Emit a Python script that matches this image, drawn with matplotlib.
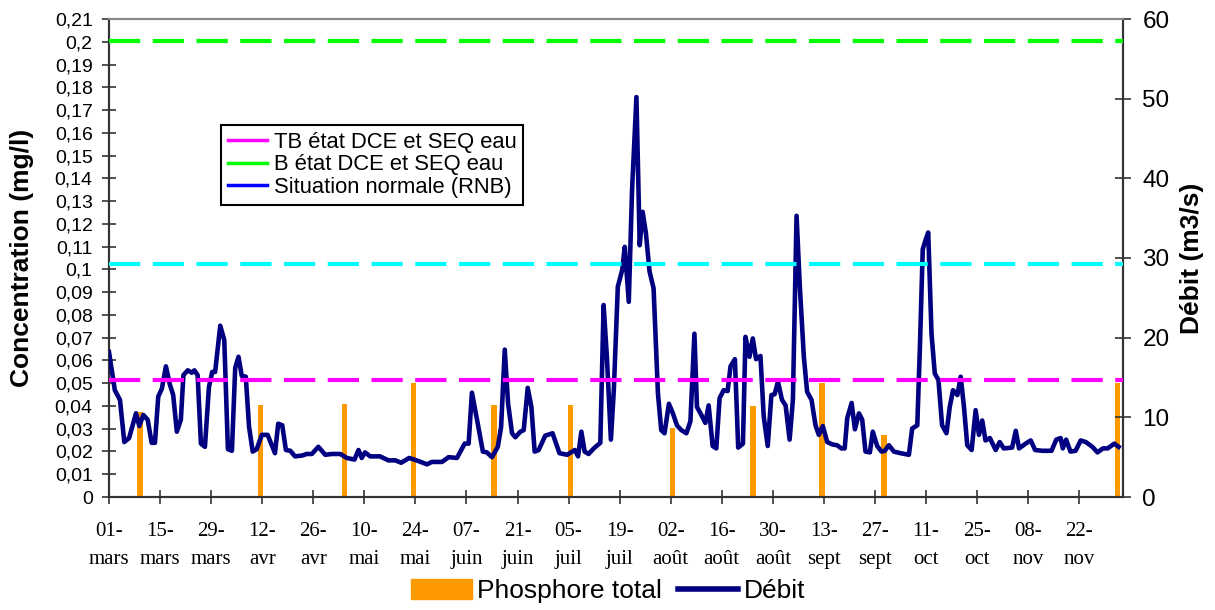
import matplotlib
matplotlib.use("Agg")
import matplotlib.pyplot as plt
from matplotlib.lines import Line2D
from matplotlib.patches import Patch
import numpy as np

# jours depuis le 01-mars
tick_jours = [0, 14, 28, 42, 56, 70, 84, 98, 112, 126, 140, 154, 168, 182, 196, 210, 224, 238, 252, 266]
tick_dates = ["01-\nmars", "15-\nmars", "29-\nmars", "12-\navr", "26-\navr", "10-\nmai", "24-\nmai",
              "07-\njuin", "21-\njuin", "05-\njuil", "19-\njuil", "02-\naoût", "16-\naoût", "30-\naoût",
              "13-\nsept", "27-\nsept", "11-\noct", "25-\noct", "08-\nnov", "22-\nnov"]

# Phosphore total (mg/l)
phos_jours = [8.5, 41.5, 64.5, 83.5, 105.5, 126.5, 154.5, 176.5, 195.5, 212.5, 276.5]
phos_conc = [0.0375, 0.0405, 0.041, 0.050, 0.0405, 0.0405, 0.0305, 0.040, 0.050, 0.0272, 0.050]

# seuils (mg/l)
seuil_tb = 0.0513
seuil_b = 0.2005
seuil_rnb = 0.1025

# Débit (m3/s)
debit_jours = [0.0, 1.6, 3.0, 4.2, 5.5, 7.4, 8.3, 9.4, 10.6, 11.7, 12.6, 13.5, 14.5, 15.6, 16.7, 17.6, 18.6,
               19.7, 20.4, 21.6, 22.7, 23.4, 24.3, 25.2, 26.3, 27.4, 28.3, 29.1, 30.5, 31.6, 32.6, 33.7,
               34.6, 35.5, 36.4, 37.5, 38.4, 39.4, 40.5, 41.9, 43.5, 45.5, 46.4, 47.5, 48.5, 49.7, 51.0,
               52.9, 54.2, 55.6, 57.4, 59.3, 61.1, 63.4, 65.2, 67.3, 68.4, 69.3, 70.2, 71.6, 74.3, 76.6,
               78.5, 80.1, 82.3, 84.9, 87.2, 88.5, 91.3, 93.1, 95.4, 97.5, 98.6, 99.5, 100.9, 102.5,
               103.6, 105.0, 106.6, 107.5, 108.5, 109.4, 110.5, 111.4, 112.8, 113.7, 114.8, 115.8,
               116.7, 117.8, 119.6, 121.6, 123.5, 125.6, 127.7, 128.6, 129.5, 130.4, 131.5, 132.9,
               134.7, 135.6, 136.5, 137.6, 138.4, 139.5, 140.7, 141.4, 142.5, 143.4, 144.6, 145.5,
               146.3, 147.2, 148.2, 149.3, 150.5, 151.4, 152.3, 153.5, 154.6, 155.7, 156.9, 158.3,
               159.4, 160.5, 161.2, 162.4, 163.5, 164.4, 165.5, 166.5, 167.4, 168.5, 169.6, 170.4,
               171.6, 172.5, 173.8, 174.5, 175.6, 176.5, 177.4, 178.6, 179.5, 180.6, 181.6, 182.5,
               183.4, 184.5, 185.5, 186.6, 187.5, 188.5, 189.4, 190.5, 191.4, 192.6, 193.7, 194.6,
               195.7, 196.9, 198.3, 199.6, 200.8, 201.7, 202.4, 203.6, 204.5, 205.6, 206.5, 207.4,
               208.6, 209.4, 210.6, 211.8, 212.7, 213.8, 215.2, 217.0, 219.3, 220.2, 221.6, 222.3,
               223.1, 223.9, 224.6, 225.5, 226.4, 227.4, 228.4, 229.6, 230.5, 231.4, 232.6, 233.5,
               234.4, 235.3, 236.5, 237.6, 238.5, 239.4, 240.3, 241.5, 243.1, 244.2, 245.3, 247.6,
               248.6, 249.5, 251.3, 252.7, 253.9, 255.9, 258.4, 259.7, 260.9, 261.5, 262.4, 263.6,
               265.0, 266.4, 267.8, 269.6, 271.0, 272.5, 273.8, 275.6, 276.8]
debit_m3s = [18.2, 13.4, 12.2, 6.9, 7.4, 10.5, 8.9, 10.3, 9.7, 6.8, 6.8, 12.6, 13.6, 16.4, 14.1, 12.8, 8.2,
             9.7, 15.3, 15.9, 15.6, 15.9, 15.3, 6.7, 6.3, 13.8, 15.7, 15.7, 21.5, 19.7, 6.0, 5.8,
             16.2, 17.6, 15.2, 15.1, 8.8, 5.7, 6.0, 7.8, 7.8, 5.5, 9.2, 9.0, 5.9, 5.8, 5.1,
             5.2, 5.4, 5.4, 6.3, 5.3, 5.4, 5.4, 4.9, 4.7, 5.9, 4.9, 5.6, 5.1, 5.1, 4.6,
             4.6, 4.3, 4.9, 4.5, 4.1, 4.4, 4.4, 5.0, 4.9, 6.7, 6.7, 13.1, 9.7, 5.7,
             5.6, 5.0, 6.3, 8.8, 18.5, 11.8, 8.0, 7.5, 8.2, 8.4, 13.7, 11.3,
             5.7, 5.9, 7.7, 8.0, 5.5, 5.3, 5.9, 5.1, 8.2, 5.7, 5.4, 6.1,
             6.8, 24.1, 17.6, 7.2, 13.4, 26.4, 28.5, 31.4, 24.5, 38.5, 50.2, 31.6,
             35.8, 33.1, 28.3, 26.2, 13.0, 8.4, 8.0, 11.7, 10.5, 9.0, 8.4, 8.0,
             9.5, 20.5, 11.3, 10.3, 9.3, 11.5, 6.4, 6.1, 12.4, 13.4, 13.3, 16.4,
             17.3, 6.2, 6.7, 20.1, 17.6, 19.9, 17.3, 17.7, 10.1, 6.4, 12.8, 12.9,
             14.5, 12.2, 11.5, 7.2, 12.2, 35.3, 26.4, 17.6, 13.2, 12.2, 9.0, 7.8,
             8.9, 6.9, 6.6, 6.5, 6.1, 6.1, 9.9, 11.8, 8.5, 10.5, 9.7, 5.7,
             5.6, 8.2, 6.4, 5.7, 5.8, 6.5, 5.7, 5.5, 5.3, 8.6, 9.0, 18.5,
             31.1, 32.3, 33.2, 20.5, 15.5, 14.7, 9.0, 8.0, 11.3, 13.4, 12.8, 15.1,
             11.3, 6.5, 5.9, 10.9, 7.8, 9.6, 7.1, 7.4, 5.9, 6.9, 6.1, 6.2,
             8.3, 6.1, 6.7, 7.1, 5.9, 5.8, 5.8, 7.2, 7.4, 6.1, 7.2, 5.7,
             5.8, 7.1, 6.9, 6.3, 5.6, 6.1, 6.1, 6.7, 6.3]

fig = plt.figure(figsize=(12.15, 6.10), dpi=100)
ax = fig.add_axes([109/1215, 1-497/610, (1123-109)/1215, (497-19)/610])
ax2 = ax.twinx()

ax.bar(phos_jours, phos_conc, width=1.5, color="#FF9900", zorder=2)
ax2.plot(debit_jours, debit_m3s, color="#000080", lw=3.3, solid_joinstyle="round", zorder=3)

# seuils dessinés au-dessus du débit, sur l'échelle de concentration
for v, c in [(seuil_tb, "#FF00FF"), (seuil_b, "#00FF00"), (seuil_rnb, "#00FFFF")]:
    ax2.plot([0, 278], [v, v], color=c, lw=3, dashes=(7.5, 3), transform=ax.transData, zorder=4)

ax.set_xlim(0, 278)
ax.set_ylim(0, 0.21)
ax2.set_ylim(0, 60)

yt = np.round(np.arange(22) * 0.01, 2)
ax.set_yticks(yt)
ax.set_yticklabels([("%g" % v).replace(".", ",") for v in yt])
ax2.set_yticks(range(0, 61, 10))
ax.set_xticks(tick_jours)
ax.set_xticklabels(tick_dates, family="Liberation Serif", fontsize=15, linespacing=1.65)

for lab in ax.get_yticklabels():
    lab.set_family("Liberation Sans")
ax.tick_params(axis="y", direction="inout", length=9.5, width=1.2, pad=7, labelsize=14, colors="#333333", labelcolor="black")
ax.tick_params(axis="x", direction="inout", length=9.5, width=1.2, pad=13, colors="#333333", labelcolor="black")
ax2.tick_params(axis="y", direction="inout", length=12, width=1.2, pad=8, labelsize=17.5, colors="#333333", labelcolor="black")
for lab in ax2.get_yticklabels():
    lab.set_family("Liberation Sans")

for a in (ax, ax2):
    a.spines["top"].set_color("#888888")
    a.spines["top"].set_linewidth(1.5)
    for s in ("left", "right", "bottom"):
        a.spines[s].set_color("#333333")
        a.spines[s].set_linewidth(1.5)

ax.set_ylabel("Concentration (mg/l)", family="Liberation Sans", fontweight="bold", fontsize=19)
ax.yaxis.set_label_coords((34-109)/1014, 0.5)
ax2.set_ylabel("Débit (m3/s)", family="Liberation Sans", fontweight="bold", fontsize=19)
ax2.yaxis.set_label_coords((1180-109)/1014, 0.5)

h1 = [Line2D([], [], color="#FF00FF", lw=2.5),
      Line2D([], [], color="#00FF00", lw=2.5),
      Line2D([], [], color="#0000FF", lw=2.5)]
leg1 = fig.legend(h1, ["TB état DCE et SEQ eau", "B état DCE et SEQ eau", "Situation normale (RNB)"],
                  loc="upper left", bbox_to_anchor=(221/1215, 1-125/610), fancybox=False,
                  edgecolor="black", framealpha=1, borderpad=0.3, labelspacing=0.08,
                  handlelength=1.8, handletextpad=0.3, borderaxespad=0,
                  prop={"family": "Liberation Sans", "size": 15.8})
leg1.get_frame().set_linewidth(1.5)

h2 = [Patch(color="#FF9900"), Line2D([], [], color="#000080", lw=4)]
fig.legend(h2, ["Phosphore total", "Débit"], loc="center", bbox_to_anchor=(608/1215, 1-591/610),
           ncol=2, frameon=False, handlelength=2.3, handleheight=0.8, handletextpad=0.2,
           columnspacing=0.6, prop={"family": "Liberation Sans", "size": 19})

fig.savefig("out.png", dpi=100)
